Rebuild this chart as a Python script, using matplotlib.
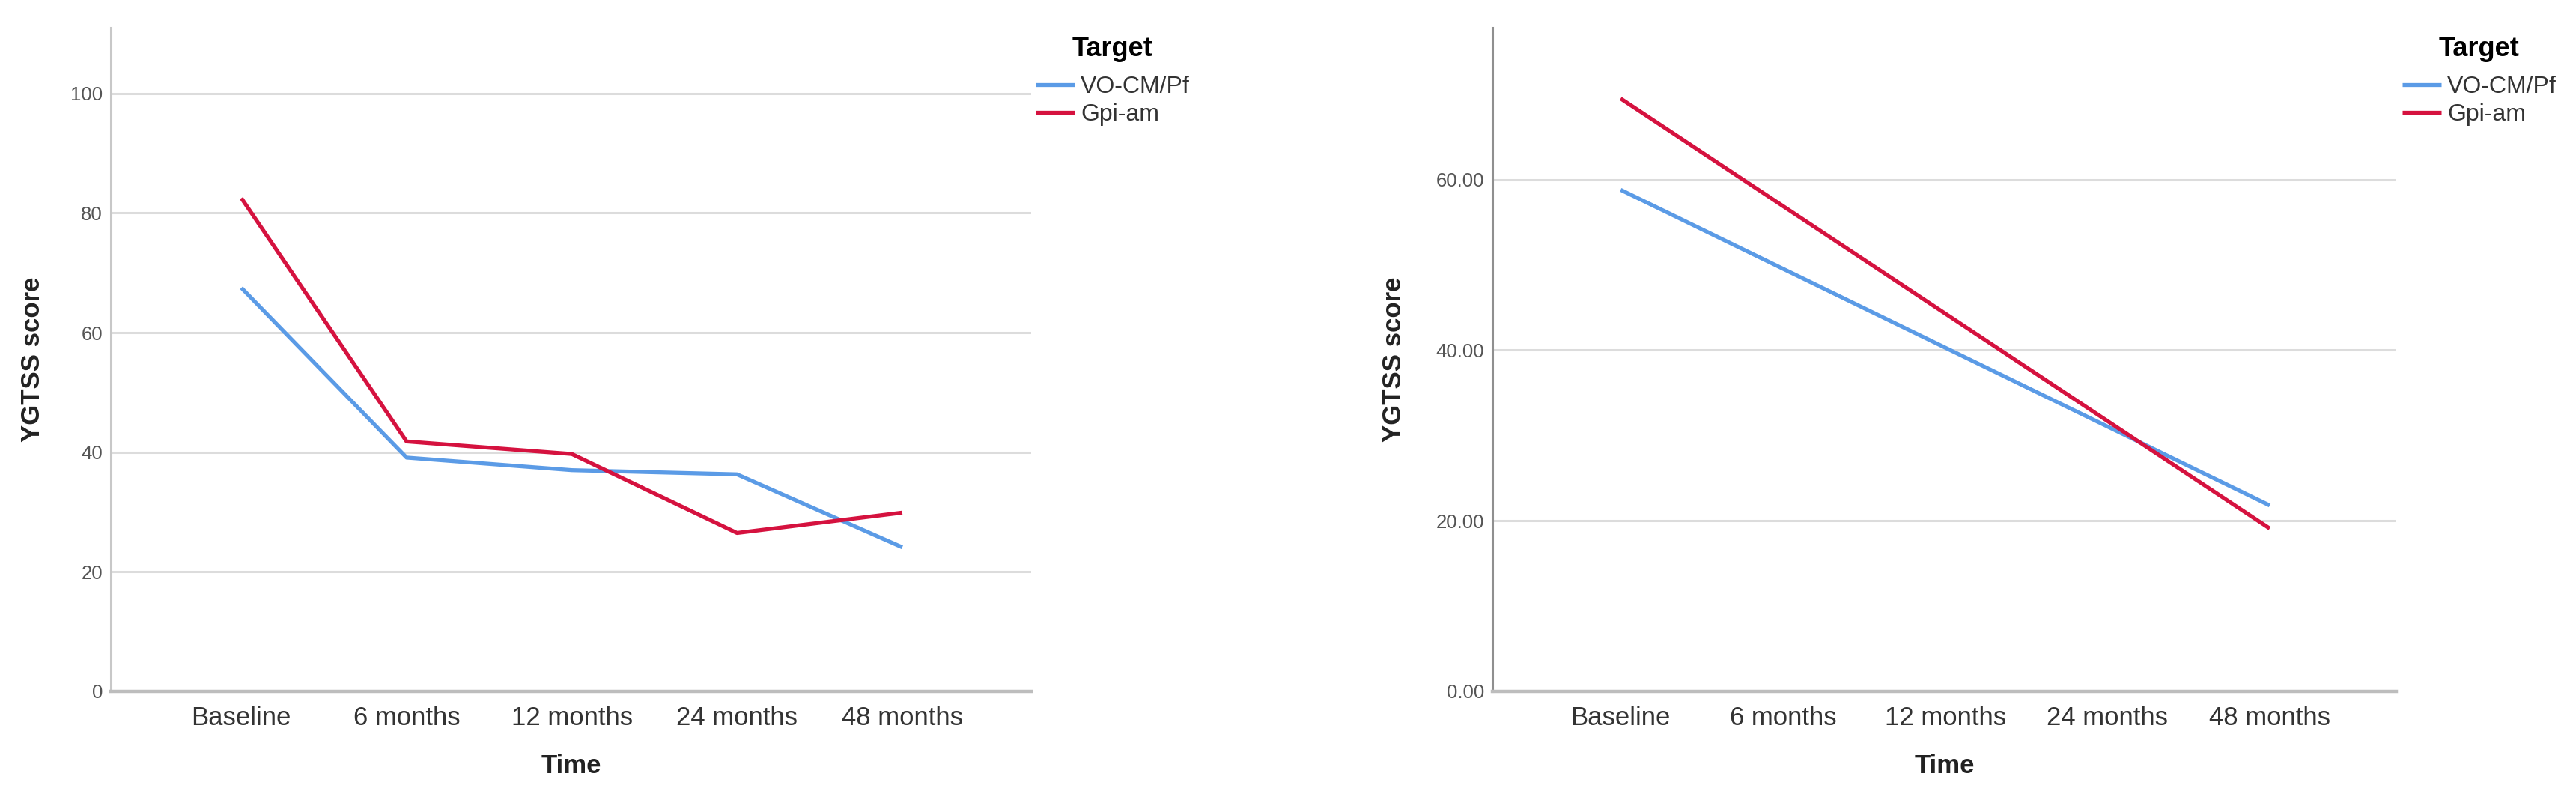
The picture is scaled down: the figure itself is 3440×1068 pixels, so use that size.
import matplotlib
matplotlib.use("Agg")
import matplotlib.pyplot as plt
import numpy as np

plt.rcParams['font.family'] = ['Liberation Sans', 'DejaVu Sans']

time_points = ["Baseline", "6 months", "12 months", "24 months", "48 months"]
groups = ["VO-CM/Pf", "Gpi-am"]

# left panel: mean YGTSS per time point
left_vo = [67.5, 39.1, 37.0, 36.3, 24.1]
left_gpi = [82.5, 41.8, 39.7, 26.5, 29.9]

# right panel: only baseline and 48 months
right_vo = [58.8, None, None, None, 21.8]
right_gpi = [69.5, None, None, None, 19.1]

left_yticks = [0, 20, 40, 60, 80, 100]
right_yticks = [0, 20, 40, 60]

blue = "#5b9be6"
red = "#d5123f"

W, H = 3441, 1068
fig = plt.figure(figsize=(W / 100, H / 100), dpi=100)


def panel(rect, vo, gpi, yticks, ylim, fmt, spine_col, legend_x, ylabelpad):
    ax = fig.add_axes(rect)
    x = np.arange(len(time_points))
    for vals, col, name in [(vo, blue, groups[0]), (gpi, red, groups[1])]:
        xs = [i for i, v in zip(x, vals) if v is not None]
        ys = [v for v in vals if v is not None]
        ax.plot(xs, ys, color=col, lw=3.8, label=name, solid_capstyle='butt', zorder=3)
    ax.set_xlim(-0.79, 4.78)
    ax.set_ylim(*ylim)
    ax.set_xticks(x)
    ax.set_xticklabels(time_points, fontsize=25, color="#333333")
    ax.set_yticks(yticks)
    ax.set_yticklabels([fmt.format(t) for t in yticks], fontsize=18.5, color="#555555")
    ax.tick_params(axis='x', length=0, pad=14)
    ax.tick_params(axis='y', length=0, pad=8)
    for t in yticks[1:]:
        ax.axhline(t, color="#dcdcdc", lw=2.2, zorder=1)
    for s in ['top', 'right']:
        ax.spines[s].set_visible(False)
    ax.spines['left'].set_color(spine_col)
    ax.spines['left'].set_linewidth(2.2)
    ax.spines['bottom'].set_color("#bdbdbd")
    ax.spines['bottom'].set_linewidth(3.2)
    ax.set_xlabel("Time", fontsize=25, fontweight='bold', color="#222222", labelpad=22)
    ax.set_ylabel("YGTSS score", fontsize=25, fontweight='bold', color="#222222",
                  labelpad=ylabelpad)
    leg = ax.legend(loc='upper left', bbox_to_anchor=(legend_x, 0.955),
                    bbox_transform=fig.transFigure, frameon=False,
                    title="Target", title_fontproperties={'weight': 'bold', 'size': 26},
                    fontsize=23, handlelength=1.63, handletextpad=0.25,
                    labelspacing=0.22, borderpad=0, borderaxespad=0)
    leg._legend_box.sep = 13
    for t in leg.get_texts():
        t.set_color("#333333")
    return ax


panel([148 / W, 145 / H, 1229 / W, 886 / H], left_vo, left_gpi, left_yticks,
      (0, 111), "{:d}", "#c8c8c8", 1383 / W, 24)
panel([1993 / W, 145 / H, 1207 / W, 886 / H], right_vo, right_gpi, right_yticks,
      (0, 77.8), "{:.2f}", "#8f8f8f", 3208 / W, 28)

fig.savefig("out.png", dpi=100)
